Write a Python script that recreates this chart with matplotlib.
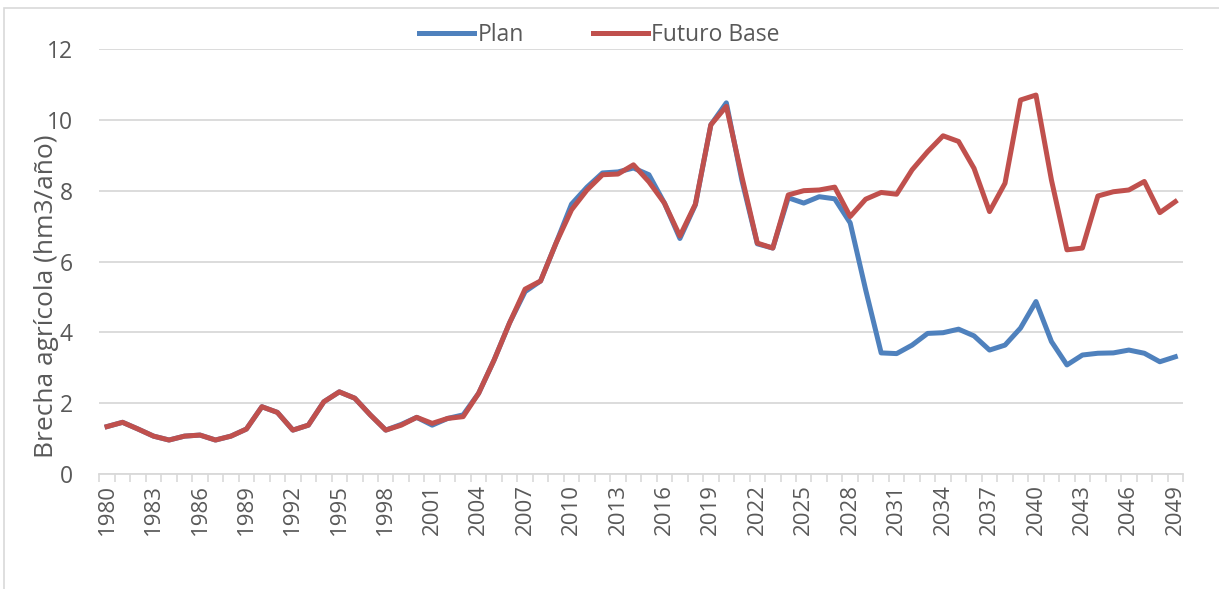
import numpy as np
import matplotlib.pyplot as plt
from matplotlib.patches import Rectangle

plt.rcParams['font.family'] = ['Open Sans', 'DejaVu Sans']

years = list(range(1980, 2050))

plan = [1.34, 1.46, 1.27, 1.07, 0.96, 1.07, 1.10, 0.96, 1.07, 1.27,
        1.90, 1.74, 1.24, 1.38, 2.04, 2.32, 2.14, 1.67, 1.24, 1.40,
        1.60, 1.38, 1.57, 1.67, 2.28, 3.22, 4.27, 5.15, 5.45, 6.52,
        7.62, 8.10, 8.50, 8.53, 8.64, 8.45, 7.65, 6.65, 7.60, 9.86,
        10.48, 8.30, 6.50, 6.38, 7.80, 7.65, 7.83, 7.77, 7.09, 5.20,
        3.42, 3.40, 3.64, 3.97, 3.99, 4.09, 3.90, 3.50, 3.64, 4.12,
        4.87, 3.74, 3.08, 3.36, 3.41, 3.42, 3.50, 3.41, 3.17, 3.31]

futuro_base = [1.34, 1.46, 1.27, 1.07, 0.96, 1.07, 1.10, 0.96, 1.07, 1.27,
               1.90, 1.74, 1.24, 1.38, 2.04, 2.32, 2.14, 1.67, 1.24, 1.38,
               1.60, 1.43, 1.57, 1.62, 2.28, 3.22, 4.27, 5.22, 5.45, 6.52,
               7.46, 8.02, 8.45, 8.47, 8.73, 8.25, 7.65, 6.72, 7.62, 9.86,
               10.38, 8.40, 6.52, 6.38, 7.88, 8.00, 8.02, 8.10, 7.27, 7.76,
               7.95, 7.90, 8.59, 9.10, 9.55, 9.39, 8.63, 7.41, 8.21, 10.56,
               10.70, 8.30, 6.33, 6.38, 7.85, 7.97, 8.02, 8.26, 7.38, 7.69]

yticks = [0, 2, 4, 6, 8, 10, 12]

grey_txt = '#595959'
grey_line = '#d9d9d9'

fig = plt.figure(figsize=(12.19, 5.89), dpi=100)
ax = fig.add_axes([0.0815, 0.1952, 0.889, 0.7216])

x = np.arange(len(years))
ax.plot(x, plan, color='#4f81bd', lw=3.6, solid_joinstyle='round', label='Plan')
ax.plot(x, futuro_base, color='#c0504d', lw=3.6, solid_joinstyle='round', label='Futuro Base')

ax.set_xlim(-0.5, len(years) - 0.5)
ax.set_ylim(0, 12)
ax.set_yticks(yticks)
ax.tick_params(axis='y', length=0, labelsize=16.5, labelcolor=grey_txt, pad=19)
ax.grid(axis='y', color=grey_line, lw=1.3)
ax.set_axisbelow(True)

# label every third year, small ticks between categories
lab_idx = x[::3]
ax.set_xticks(lab_idx)
ax.set_xticklabels([str(years[i]) for i in lab_idx], rotation=90)
ax.set_xticks(np.arange(len(years) + 1) - 0.5, minor=True)
ax.tick_params(axis='x', which='major', length=0, labelsize=16, labelcolor=grey_txt, pad=7)
ax.tick_params(axis='x', which='minor', length=6, color=grey_line, width=1.2)

for s in ['top', 'right', 'left']:
    ax.spines[s].set_visible(False)
ax.spines['bottom'].set_color(grey_line)
ax.spines['bottom'].set_linewidth(1.3)

fig.text(47 / 1219, 0.4975, 'Brecha agrícola (hm3/año)', rotation=90, ha='center', va='center',
         fontsize=19, color=grey_txt)

fig.legend(handles=ax.get_lines(), loc='center', bbox_to_anchor=(0.492, 0.9406), ncol=2,
           frameon=False, fontsize=16.5, labelcolor=grey_txt, handlelength=2.4,
           handletextpad=0.15, columnspacing=3.0, borderaxespad=0)

fig.patches.append(Rectangle((4 / 1219, -0.1), 1.2, 1.1 - 8 / 589, transform=fig.transFigure,
                             fill=False, edgecolor=grey_line, lw=1.2))

fig.savefig('out.png', dpi=100)
